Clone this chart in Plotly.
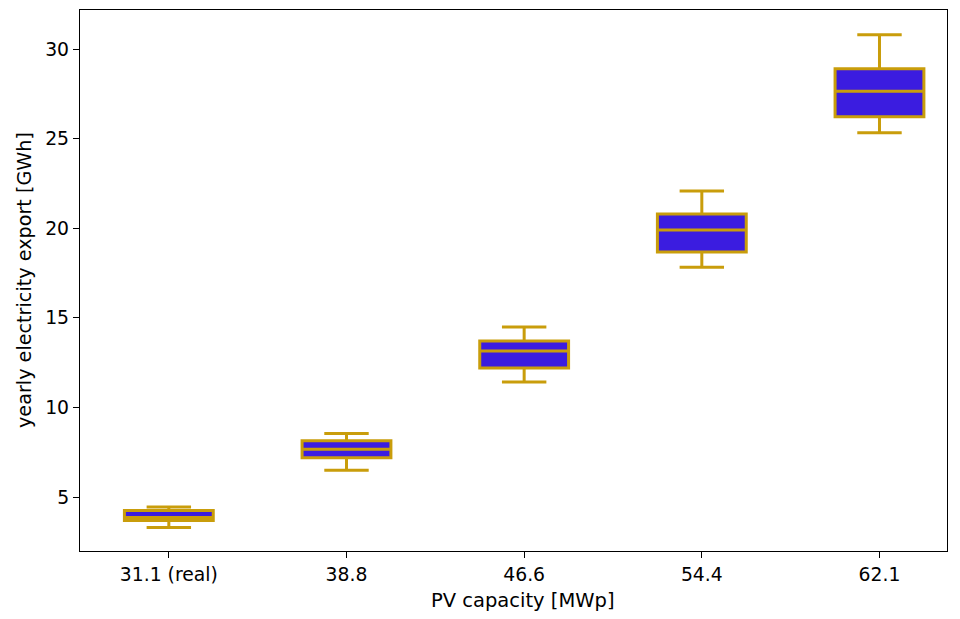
import plotly.graph_objects as go

categories = ["31.1 (real)", "38.8", "46.6", "54.4", "62.1"]
positions = [1, 2, 3, 4, 5]
lower_whisker = [3.30, 6.49, 11.42, 17.83, 25.33]
q1 = [3.69, 7.20, 12.20, 18.67, 26.22]
median = [3.86, 7.67, 13.15, 19.90, 27.64]
q3 = [4.25, 8.14, 13.71, 20.79, 28.90]
upper_whisker = [4.44, 8.55, 14.49, 22.08, 30.80]
y_ticks = [5, 10, 15, 20, 25, 30]

EDGE = "#c99d0b"
FILL = "#3b1ce0"
FONT = "DejaVu Sans"

fig = go.Figure()
fig.add_trace(go.Box(
    x=positions,
    q1=q1, median=median, q3=q3,
    lowerfence=lower_whisker, upperfence=upper_whisker,
    width=0.5,
    whiskerwidth=0.5,
    line=dict(color=EDGE, width=3),
    fillcolor=FILL,
    boxpoints=False,
    showlegend=False,
    hoverinfo="skip",
))

axis_common = dict(
    showline=True, linecolor="black", linewidth=1.3, mirror=True,
    ticks="outside", ticklen=6, tickwidth=1.3, tickcolor="black",
    showgrid=False, zeroline=False,
    tickfont=dict(family=FONT, size=18.8, color="black"),
)

fig.update_layout(
    width=960, height=619,
    margin=dict(l=80, r=13, t=10, b=68),
    paper_bgcolor="white", plot_bgcolor="white",
    font=dict(family=FONT, size=18.8, color="black"),
    xaxis=dict(
        range=[0.5, 5.38],
        tickmode="array", tickvals=positions, ticktext=categories,
        **axis_common,
    ),
    yaxis=dict(
        range=[1.99, 32.18],
        tickmode="array", tickvals=y_ticks, ticktext=[str(v) for v in y_ticks],
        **axis_common,
    ),
    annotations=[
        dict(text="PV capacity [MWp]", xref="paper", yref="paper",
             x=0.511, y=-0.0924, xanchor="center", yanchor="middle",
             showarrow=False, font=dict(family=FONT, size=19.5, color="black")),
        dict(text="yearly electricity export [GWh]", xref="paper", yref="paper",
             x=-0.0634, y=0.501, xanchor="center", yanchor="middle", textangle=-90,
             showarrow=False, font=dict(family=FONT, size=19.2, color="black")),
    ],
)

fig.write_html("out.html")
